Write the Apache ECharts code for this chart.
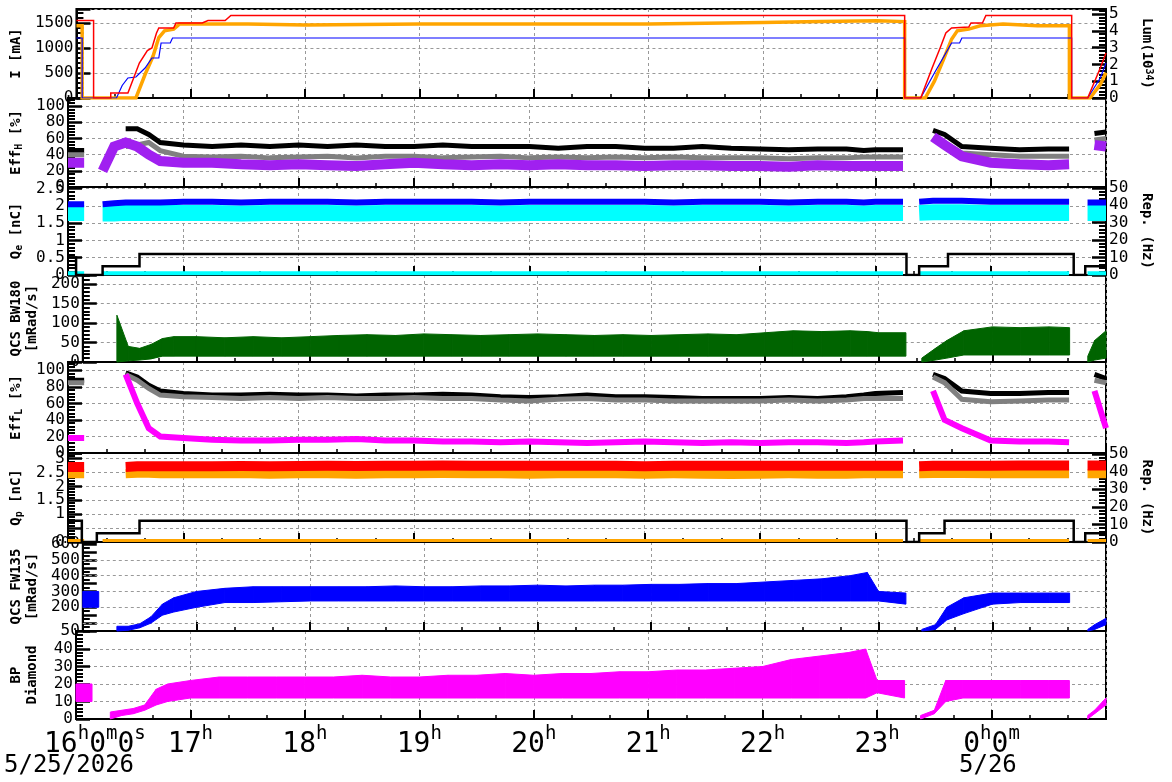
<!DOCTYPE html>
<html>
<head>
<meta charset="utf-8">
<script src="https://cdn.jsdelivr.net/npm/echarts@6/dist/echarts.min.js"></script>
<style>
 html,body{margin:0;padding:0;background:#fff;}
 #main{width:1172px;height:782px;}
</style>
</head>
<body>
<div id="main"></div>
<script>
// 共通の時刻 [h] (24以降は翌日)
var T = [16.0,16.14,16.16,16.3,16.4,16.5,16.6,16.7,16.8,17.0,17.25,17.5,17.75,18.0,18.25,18.5,18.75,19.0,19.25,19.5,19.75,20.0,20.25,20.5,20.75,21.0,21.25,21.5,21.75,22.0,22.25,22.5,22.75,22.9,23.0,23.24,23.26,23.38,23.5,23.6,23.75,24.0,24.25,24.5,24.68,24.7,24.84,24.9,25.0];

// I [mA] / Lum
var curRed = [[16,1550],[16.15,1550],[16.15,0],[16.3,0],[16.3,100],[16.45,100],[16.55,700],[16.62,950],[16.66,1000],[16.7,1300],[16.72,1400],[16.85,1400],[16.87,1500],[17.1,1500],[17.15,1550],[17.3,1550],[17.35,1650],[23.24,1650],[23.24,0],[23.38,0],[23.48,600],[23.55,1000],[23.6,1300],[23.65,1400],[23.8,1420],[23.82,1500],[23.92,1500],[23.95,1650],[24.7,1650],[24.7,0],[24.84,0],[24.95,600],[25,900]];
var curBlue = [[16,1200],[16.05,1200],[16.05,0],[16.35,0],[16.4,250],[16.45,400],[16.52,420],[16.6,600],[16.66,800],[16.72,800],[16.74,1100],[16.82,1100],[16.84,1200],[23.24,1200],[23.24,0],[23.38,0],[23.5,500],[23.6,900],[23.65,1100],[23.72,1100],[23.74,1200],[24.7,1200],[24.7,0],[24.84,0],[24.95,400],[25,700]];
var lum = [[16,4.3],[16.05,4.3],[16.05,0],[16.52,0],[16.6,1.4],[16.67,2.5],[16.72,3.6],[16.77,4.0],[16.85,4.1],[16.9,4.4],[17.5,4.4],[18,4.35],[19,4.4],[20,4.4],[21,4.4],[21.5,4.45],[22,4.5],[22.5,4.55],[23,4.6],[23.24,4.55],[23.24,0],[23.42,0],[23.5,1.0],[23.58,2.3],[23.65,3.5],[23.7,4.0],[23.8,4.1],[23.9,4.3],[24.1,4.4],[24.4,4.3],[24.68,4.3],[24.68,0],[24.86,0],[24.95,0.8],[25,1.5]];

// Eff_H [%]
var effHBlack = [45,45,null,null,null,72,72,65,55,52,50,52,50,52,50,52,50,50,52,50,50,50,48,50,50,48,48,50,48,47,46,47,47,45,46,46,null,null,70,65,50,48,46,47,47,null,null,66,68];
var effHGray = [40,40,null,null,null,50,52,55,45,38,37,38,36,37,38,36,38,38,36,37,38,36,37,36,37,36,37,36,36,36,35,36,36,37,37,37,null,null,60,55,42,40,38,38,38,null,null,58,60];
var effHPurple = [30,30,null,20,50,55,50,40,32,30,30,28,27,28,27,26,28,30,28,27,28,27,28,27,27,26,27,27,26,26,25,27,26,26,26,26,null,null,62,52,38,30,28,27,28,null,null,52,50];

// Q_e [nC]
var qeBlue = [2.05,2.05,null,2.05,2.08,2.1,2.1,2.1,2.1,2.12,2.12,2.1,2.12,2.12,2.12,2.1,2.12,2.12,2.12,2.12,2.1,2.12,2.12,2.12,2.12,2.12,2.1,2.12,2.12,2.12,2.1,2.12,2.12,2.1,2.12,2.12,null,2.12,2.15,2.15,2.15,2.12,2.12,2.12,2.12,null,2.1,2.1,2.1];
var qeCyan = [1.8,1.8,null,1.78,1.78,1.8,1.8,1.8,1.8,1.8,1.8,1.78,1.8,1.8,1.8,1.78,1.8,1.8,1.8,1.8,1.78,1.8,1.8,1.8,1.8,1.8,1.78,1.8,1.8,1.8,1.78,1.8,1.8,1.78,1.8,1.8,null,1.8,1.82,1.82,1.82,1.8,1.8,1.8,1.8,null,1.8,1.8,1.8];
var baseLow = [0.05,0.05,null,0.05,0.05,0.05,0.05,0.05,0.05,0.05,0.05,0.05,0.05,0.05,0.05,0.05,0.05,0.05,0.05,0.05,0.05,0.05,0.05,0.05,0.05,0.05,0.05,0.05,0.05,0.05,0.05,0.05,0.05,0.05,0.05,0.05,null,0.05,0.05,0.05,0.05,0.05,0.05,0.05,0.05,null,0.05,0.05,0.05];
var repE = [[16,10],[16.07,10],[16.07,0],[16.3,0],[16.3,5],[16.62,5],[16.62,12],[23.27,12],[23.27,0],[23.38,0],[23.38,5],[23.63,5],[23.63,12],[24.72,12],[24.72,0],[24.82,0],[24.82,5],[25,5]];

// QCS BW180 [mRad/s]
var bwLo = [null,null,null,0,3,5,8,15,15,15,15,15,15,15,15,15,15,15,15,15,15,15,15,15,15,15,15,15,15,15,15,15,15,15,15,15,null,0,5,10,18,18,18,18,18,null,0,5,10];
var bwHi = [null,null,null,120,40,35,45,60,65,65,62,65,62,65,68,70,68,72,70,68,70,72,70,68,70,68,70,72,70,75,80,78,80,78,75,75,null,10,35,55,80,90,88,90,88,null,15,55,80];

// Eff_L [%]
var effLBlack = [88,88,null,null,null,97,92,82,75,72,70,70,71,70,70,69,70,70,71,70,68,67,68,70,68,68,67,66,66,66,67,66,68,70,72,73,null,null,95,90,75,72,72,73,73,null,null,95,90];
var effLGray = [85,85,null,null,null,95,88,78,70,68,67,66,67,66,67,66,66,67,66,66,64,63,65,66,64,64,63,63,63,63,64,63,64,66,66,66,null,null,92,85,65,62,63,64,64,null,null,88,85];
var effLMag = [18,18,null,70,null,95,60,30,20,18,16,15,15,16,16,17,15,15,14,14,13,14,13,12,13,14,13,12,13,12,13,13,12,13,14,15,null,null,75,40,30,15,14,14,13,null,null,75,30];

// Q_p [nC]
var qpRed = [2.7,2.7,null,2.68,null,2.7,2.72,2.72,2.72,2.72,2.72,2.73,2.72,2.73,2.74,2.73,2.74,2.74,2.75,2.74,2.74,2.74,2.74,2.74,2.74,2.72,2.74,2.74,2.74,2.74,2.74,2.74,2.74,2.74,2.74,2.74,null,2.72,2.74,2.74,2.74,2.74,2.75,2.75,2.75,null,2.75,2.75,2.75];
var qpOrange = [2.45,2.45,null,2.42,null,2.45,2.47,2.47,2.45,2.45,2.45,2.46,2.44,2.45,2.45,2.44,2.45,2.45,2.46,2.45,2.45,2.44,2.45,2.45,2.45,2.44,2.45,2.44,2.43,2.44,2.45,2.44,2.44,2.45,2.45,2.45,null,2.45,2.46,2.46,2.46,2.45,2.45,2.45,2.45,null,2.45,2.45,2.45];
var repP = [[16,12],[16.12,12],[16.12,0],[16.25,0],[16.25,5],[16.62,5],[16.62,12],[23.27,12],[23.27,0],[23.38,0],[23.38,5],[23.6,5],[23.6,12],[24.72,12],[24.72,0],[24.82,0],[24.82,5],[25,5]];

// QCS FW135 [mRad/s]
var fwLo = [200,200,null,50,55,70,100,150,170,200,230,230,235,240,240,240,240,240,240,240,240,240,240,240,240,240,240,240,240,240,240,240,240,240,240,220,null,50,60,120,160,220,230,230,230,null,50,60,90];
var fwHi = [300,300,null,80,80,95,140,220,260,300,320,330,330,330,330,330,335,330,330,335,335,340,335,340,340,345,345,350,350,360,370,380,400,420,300,290,null,60,90,200,260,290,290,290,290,null,60,90,130];
var fwGrid = [100,200,300,400,500];

// BP Diamond
var bpLo = [10,10,null,0,2,3,5,8,10,12,12,12,12,12,12,12,12,12,12,12,12,12,12,12,12,12,12,12,12,12,12,12,12,12,15,12,null,0,3,10,12,12,12,12,12,null,0,3,8];
var bpHi = [20,20,null,4,5,6,8,17,20,22,24,24,24,24,24,25,24,24,25,25,26,25,26,26,27,27,28,28,29,30,34,36,38,40,22,22,null,2,5,22,22,22,22,22,22,null,2,5,12];

var FONT = 'DejaVu Sans Mono';
var tops = [9, 98, 187, 275, 362, 453, 542, 631, 719];

function pairs(arr) {
	return T.map(function(t, i) { return [t, arr[i]]; });
}
// 帯(下限～上限)を区間ごとの台形として描く
function segs(lo, hi) {
	var out = [];
	for (var i = 0; i < T.length - 1; i++) {
		if (lo[i] == null || lo[i + 1] == null) continue;
		out.push([T[i], lo[i], hi[i], T[i + 1], lo[i + 1], hi[i + 1]]);
	}
	return out;
}

var grids = [], xAxes = [], yAxes = [], series = [];
var supRich = {b: {fontSize: 28, fontFamily: FONT, color: '#000', fill: '#000', lineHeight: 34, verticalAlign: 'bottom'},
	s: {fontSize: 19, fontFamily: FONT, color: '#000', fill: '#000', lineHeight: 34, verticalAlign: 'top', padding: [0, 0, 14, 0]}};
for (var g = 0; g < 8; g++) {
	grids.push({left: 67, right: 66, top: tops[g], height: tops[g + 1] - tops[g],
		show: true, borderColor: '#000', borderWidth: 2, backgroundColor: 'transparent'});
	xAxes.push({
		type: 'value', gridIndex: g, min: 16, max: 25, interval: 1,
		axisLine: {show: true, onZero: false, lineStyle: {color: '#000', width: 2}},
		axisTick: {inside: true, length: 9, lineStyle: {color: '#000', width: 2}},
		minorTick: {show: true, splitNumber: 3, length: 4, lineStyle: {color: '#000', width: 1.5}},
		splitLine: {show: true, lineStyle: {color: '#999', type: [3, 3], width: 1}},
		axisLabel: {show: g === 7, margin: 6, fontFamily: FONT,
			formatter: function(v) {
				if (v === 16 || v === 25) return '';
				if (v === 24) return '{b|0}{s|h}{b|0}{s|m}';
				return '{b|' + v + '}{s|h}';
			},
			rich: supRich}
	});
}

var nameRich = {a: {fontSize: 14, fontWeight: 'bold', fontFamily: FONT, color: '#000'},
	s: {fontSize: 10, fontWeight: 'bold', fontFamily: FONT, color: '#000', verticalAlign: 'bottom', padding: [6, 0, 0, 0]},
	p: {fontSize: 10, fontWeight: 'bold', fontFamily: FONT, color: '#000', verticalAlign: 'top'}};

function leftAxis(g, min, max, interval, labelStep, maxLabel, name, gap, minorSplit) {
	return {
		type: 'value', gridIndex: g, position: 'left', min: min, max: max, interval: interval,
		name: name, nameLocation: 'middle', nameGap: gap, nameRotate: 90,
		nameTextStyle: {rich: nameRich, fontSize: 14, fontWeight: 'bold', fontFamily: FONT, lineHeight: 16},
		axisLine: {show: true, lineStyle: {color: '#000', width: 2}},
		axisTick: {show: true, inside: true, length: 14, lineStyle: {color: '#000', width: 2.5}},
		minorTick: {show: true, splitNumber: minorSplit || 5, length: 7, lineStyle: {color: '#000', width: 2}},
		splitLine: {show: labelStep === interval, lineStyle: {color: '#999', type: [3, 3], width: 1}},
		axisLabel: {fontSize: 16, fontFamily: FONT, color: '#000', margin: 3, showMinLabel: true, hideOverlap: false,
			formatter: function(v) {
				var r = Math.round(v / labelStep) * labelStep;
				if ((Math.abs(r - v) > 1e-6 && v !== min) || v > maxLabel + 1e-6) return '';
				return String(Math.round(v * 10) / 10);
			}}
	};
}
function rightAxis(g, max, interval, maxLabel, name) {
	return {
		type: 'value', gridIndex: g, position: 'right', min: 0, max: max, interval: interval,
		name: name, nameLocation: 'middle', nameGap: 34, nameRotate: -90,
		nameTextStyle: {rich: nameRich, fontSize: 14, fontWeight: 'bold', fontFamily: FONT},
		axisLine: {show: true, lineStyle: {color: '#000', width: 2}},
		axisTick: {show: true, inside: true, length: 14, lineStyle: {color: '#000', width: 2.5}},
		minorTick: {show: true, splitNumber: 5, length: 7, lineStyle: {color: '#000', width: 2}},
		splitLine: {show: false},
		axisLabel: {fontSize: 16, fontFamily: FONT, color: '#000', margin: 3,
			formatter: function(v) {
				var r = Math.round(v / interval) * interval;
				if (Math.abs(r - v) > 1e-6 || v > maxLabel + 1e-6) return '';
				return String(r);
			}}
	};
}

yAxes.push(leftAxis(0, 0, 1780, 500, 500, 1500, 'I [mA]', 44));
yAxes.push(leftAxis(1, 0, 110, 20, 20, 100, '{a|Eff}{s|H}{a| [%]}', 44));
yAxes.push(leftAxis(2, 0, 2.55, 0.5, 0.5, 2.5, '{a|Q}{s|e}{a| [nC]}', 44));
yAxes.push(leftAxis(3, 0, 223, 50, 50, 200, '{a|QCS BW180}\n{a|[mRad/s]}', 36));
yAxes.push(leftAxis(4, 0, 110, 20, 20, 100, '{a|Eff}{s|L}{a| [%]}', 44));
yAxes.push(leftAxis(5, 0, 3.2, 0.5, 0.5, 3, '{a|Q}{s|p}{a| [nC]}', 44));
yAxes.push(leftAxis(6, 50, 613, 50, 100, 600, '{a|QCS FW135}\n{a|[mRad/s]}', 36, 2));
yAxes.push(leftAxis(7, 0, 50.3, 10, 10, 40, '{a|BP}\n{a|Diamond}', 36));
yAxes.push(rightAxis(0, 5.3, 1, 5, '{a|Lum(10}{p|34}{a|)}'));   // 8
yAxes.push(rightAxis(2, 50.5, 10, 50, 'Rep. (Hz)'));              // 9
yAxes.push(rightAxis(5, 50.5, 10, 50, 'Rep. (Hz)'));              // 10

function line(g, y, data, color, width, z) {
	series.push({type: 'line', xAxisIndex: g, yAxisIndex: y, data: data, showSymbol: false,
		silent: true, animation: false, z: z || 2,
		lineStyle: {color: color, width: width, cap: 'butt', join: 'miter'}});
}
function band(g, lo, hi, color) {
	series.push({type: 'custom', xAxisIndex: g, yAxisIndex: g, data: segs(lo, hi), z: 3,
		silent: true, animation: false, encode: {x: [0, 3], y: [1, 2, 4, 5]},
		renderItem: function(params, api) {
			var a = api.coord([api.value(0), api.value(1)]);
			var b = api.coord([api.value(0), api.value(2)]);
			var c = api.coord([api.value(3), api.value(5)]);
			var d = api.coord([api.value(3), api.value(4)]);
			return {type: 'polygon', shape: {points: [a, b, c, d]},
				style: {fill: color, stroke: color, lineWidth: 1}};
		}});
}

// panel 0
line(0, 8, lum, '#ffa500', 3.5);
line(0, 0, curBlue, '#0000ff', 1.2, 3);
line(0, 0, curRed, '#ff0000', 1.5, 4);
// panel 1
line(1, 1, pairs(effHBlack), '#000000', 5);
line(1, 1, pairs(effHGray), '#808080', 5);
line(1, 1, pairs(effHPurple), '#a020f0', 10, 3);
// panel 2
line(2, 2, pairs(qeCyan), '#00ffff', 16);
line(2, 2, pairs(qeBlue), '#0000ff', 6, 3);
line(2, 2, pairs(baseLow), '#00ffff', 4);
line(2, 9, repE, '#000000', 2.5, 4);
// panel 3
band(3, bwLo, bwHi, '#006400');
// panel 4
line(4, 4, pairs(effLBlack), '#000000', 5);
line(4, 4, pairs(effLGray), '#808080', 5);
line(4, 4, pairs(effLMag), '#ff00ff', 6, 3);
// panel 5
line(5, 5, pairs(qpOrange), '#ffa500', 9);
line(5, 5, pairs(qpRed), '#ff0000', 10, 3);
line(5, 5, pairs(baseLow), '#ffa500', 3);
line(5, 10, repP, '#000000', 2.5, 4);
// panel 6
series.push({type: 'line', xAxisIndex: 6, yAxisIndex: 6, data: [], silent: true, z: 1,
	markLine: {silent: true, symbol: 'none', label: {show: false}, z: 1,
		lineStyle: {color: '#999', type: [3, 3], width: 1},
		data: fwGrid.map(function(v) { return {yAxis: v}; })}});
band(6, fwLo, fwHi, '#0000ff');
// panel 7
band(7, bpLo, bpHi, '#ff00ff');

var myChart = echarts.init(document.getElementById('main'));
myChart.setOption({
	animation: false,
	backgroundColor: '#fff',
	grid: grids, xAxis: xAxes, yAxis: yAxes, series: series,
	graphic: [
		{type: 'text', left: 44, top: 725, style: {text: '{b|16}{s|h}{b|0}{s|m}{b|0}{s|s}', rich: supRich}},
		{type: 'text', left: 4, top: 754, style: {text: '5/25/2026', font: '24px "DejaVu Sans Mono"', fill: '#000'}},
		{type: 'text', left: 959, top: 754, style: {text: '5/26', font: '24px "DejaVu Sans Mono"', fill: '#000'}}
	]
});
</script>
</body>
</html>
